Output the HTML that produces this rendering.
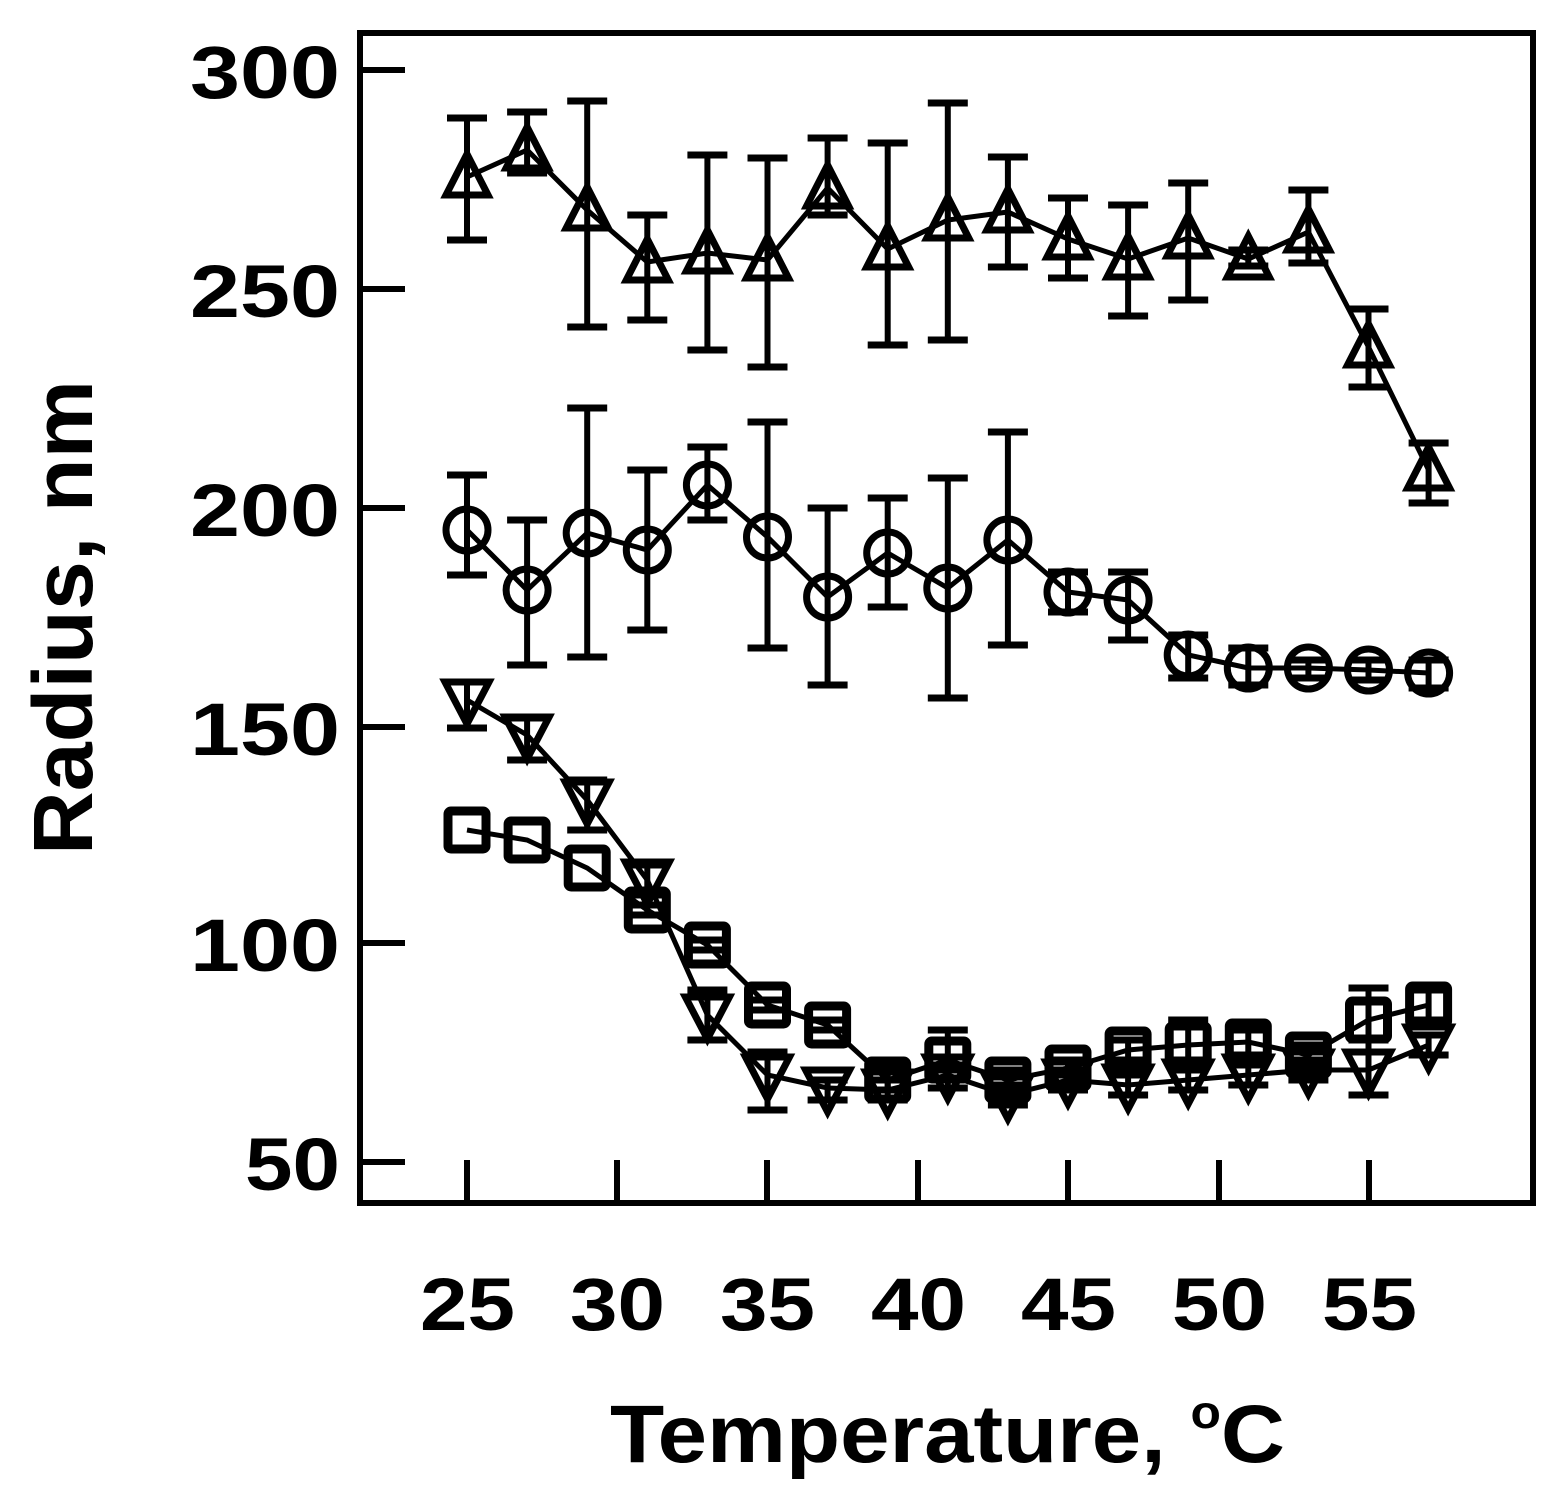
<!DOCTYPE html><html><head><style>body{margin:0;background:#fff}svg{display:block}</style></head><body>
<svg id="s" width="1560" height="1491" xmlns="http://www.w3.org/2000/svg" font-family="Liberation Sans, Arial, sans-serif" font-weight="bold">
<rect x="360" y="33" width="1173" height="1170" fill="none" stroke="#000" stroke-width="6"/>
<g stroke="#000" stroke-width="6">
<line x1="360" y1="70" x2="405" y2="70"/><line x1="360" y1="289" x2="405" y2="289"/><line x1="360" y1="508" x2="405" y2="508"/><line x1="360" y1="727" x2="405" y2="727"/><line x1="360" y1="943" x2="405" y2="943"/><line x1="360" y1="1162" x2="405" y2="1162"/>
<line x1="467" y1="1203" x2="467" y2="1160"/><line x1="617" y1="1203" x2="617" y2="1160"/><line x1="767" y1="1203" x2="767" y2="1160"/><line x1="918" y1="1203" x2="918" y2="1160"/><line x1="1068" y1="1203" x2="1068" y2="1160"/><line x1="1219" y1="1203" x2="1219" y2="1160"/><line x1="1369" y1="1203" x2="1369" y2="1160"/>
</g>
<g font-size="74" lengthAdjust="spacingAndGlyphs">
<text x="190" y="98" textLength="150" lengthAdjust="spacingAndGlyphs">300</text>
<text x="190" y="317" textLength="150" lengthAdjust="spacingAndGlyphs">250</text>
<text x="190" y="536" textLength="150" lengthAdjust="spacingAndGlyphs">200</text>
<text x="190" y="755" textLength="150" lengthAdjust="spacingAndGlyphs">150</text>
<text x="190" y="971" textLength="150" lengthAdjust="spacingAndGlyphs">100</text>
<text x="245" y="1190" textLength="95" lengthAdjust="spacingAndGlyphs">50</text>
</g>
<g font-size="74">
<text x="420" y="1330" textLength="95" lengthAdjust="spacingAndGlyphs">25</text>
<text x="570" y="1330" textLength="95" lengthAdjust="spacingAndGlyphs">30</text>
<text x="720" y="1330" textLength="95" lengthAdjust="spacingAndGlyphs">35</text>
<text x="871" y="1330" textLength="95" lengthAdjust="spacingAndGlyphs">40</text>
<text x="1021" y="1330" textLength="95" lengthAdjust="spacingAndGlyphs">45</text>
<text x="1172" y="1330" textLength="95" lengthAdjust="spacingAndGlyphs">50</text>
<text x="1322" y="1330" textLength="95" lengthAdjust="spacingAndGlyphs">55</text>
</g>
<text x="610" y="1462" font-size="82" textLength="675" lengthAdjust="spacingAndGlyphs">Temperature, <tspan font-size="46" dy="-34">o</tspan><tspan dy="34">C</tspan></text>
<text transform="translate(92,855) rotate(-90)" font-size="84" textLength="475" lengthAdjust="spacingAndGlyphs">Radius, nm</text>
<g id="d" fill="none" stroke="#000" stroke-width="6"></g>
</svg>
<script>
var X=t=>467+(t-25)*30.05;
var tri=[[177,118,240],[150,112,173],[210,101,327],[262,215,320],[253,155,350],[260,158,367],[188,138,215],[249,143,345],[220,103,340],[212,157,267],[239,198,278],[259,205,316],[238,183,300],[259,250,266],[232,190,263],[347,309,387],[470,443,503]];
var cir=[[530,475,575],[590,520,665],[533,408,657],[550,470,630],[485,447,520],[537,422,648],[597,508,685],[553,498,607],[588,478,698],[540,432,645],[592,572,612],[600,572,640],[655,635,678],[668,648,685],[668,660,678],[670,660,680],[673,660,688]];
var inv=[[700,682,728],[735,718,760],[800,780,830],[880,865,895],[1015,990,1040],[1075,1052,1110],[1088,1080,1100],[1090,1080,1100],[1075,1065,1088],[1095,1085,1105],[1080,1070,1090],[1085,1075,1095],[1080,1070,1090],[1075,1065,1085],[1070,1060,1080],[1070,1040,1095],[1045,1035,1055]];
var sq=[[830,830,830],[840,840,840],[868,868,868],[910,905,915],[945,940,950],[1005,1000,1010],[1025,1020,1030],[1080,1065,1090],[1060,1030,1070],[1080,1070,1090],[1068,1060,1075],[1050,1040,1060],[1045,1020,1060],[1042,1030,1055],[1055,1045,1065],[1020,988,1095],[1005,990,1020]];
var h='';
function ser(d,mk){var p=d.map((v,i)=>X(25+2*i)+','+v[0]).join(' ');h+='<polyline points="'+p+'" stroke-width="5"/>';
d.forEach((v,i)=>{var x=X(25+2*i);if(v[2]-v[1]>4){h+='<line x1="'+x+'" y1="'+v[1]+'" x2="'+x+'" y2="'+v[2]+'" stroke-width="6"/><line x1="'+(x-20)+'" y1="'+v[1]+'" x2="'+(x+20)+'" y2="'+v[1]+'" stroke-width="7"/><line x1="'+(x-20)+'" y1="'+v[2]+'" x2="'+(x+20)+'" y2="'+v[2]+'" stroke-width="7"/>';}h+=mk(x,v[0]);});}
ser(tri,(x,y)=>'<polygon points="'+(x-21)+','+(y+18)+' '+(x+21)+','+(y+18)+' '+x+','+(y-23)+'" stroke-width="7"/>');
ser(cir,(x,y)=>'<circle cx="'+x+'" cy="'+y+'" r="21" stroke-width="7"/>');
ser(inv,(x,y)=>'<polygon points="'+(x-22)+','+(y-18)+' '+(x+22)+','+(y-18)+' '+x+','+(y+24)+'" stroke-width="7"/>');
ser(sq,(x,y)=>'<rect x="'+(x-19)+'" y="'+(y-19)+'" width="38" height="38" rx="3" stroke-width="9"/>');
document.getElementById('d').innerHTML=h;
</script>
</body></html>
